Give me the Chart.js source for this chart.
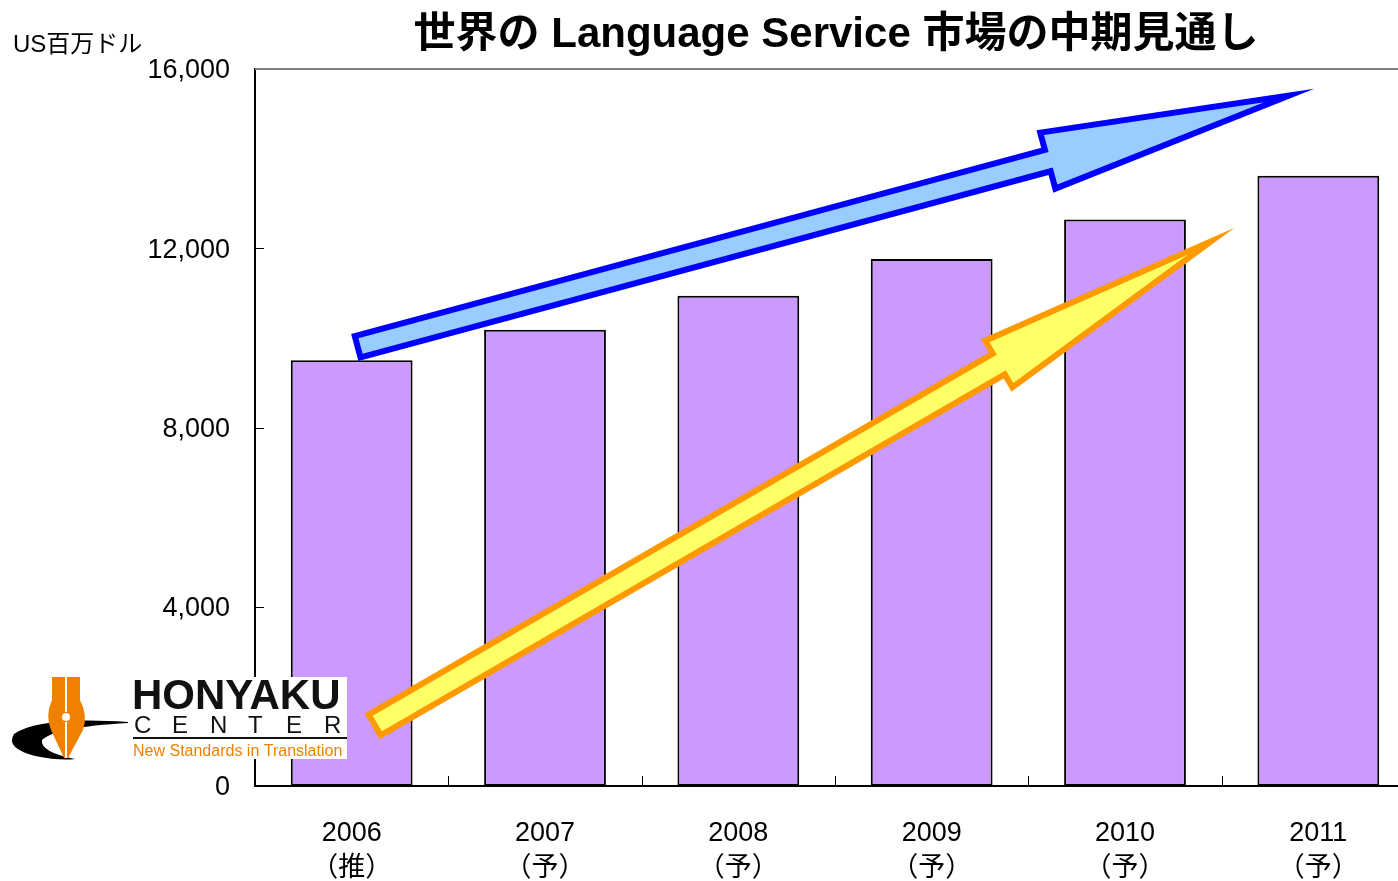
<!DOCTYPE html>
<html>
<head>
<meta charset="utf-8">
<script src="https://cdn.jsdelivr.net/npm/chart.js@4/dist/chart.umd.min.js"></script>
<style>
  html, body { margin: 0; padding: 0; background: #fff; overflow: hidden; }
  #wrap { width: 1416px; height: 881px; }
</style>
</head>
<body>
<div id="wrap"><canvas id="grafico" width="1416" height="881"></canvas></div>
<script>
// datos
const categories = ['2006', '2007', '2008', '2009', '2010', '2011'];
const categoryNotes = ['（推）', '（予）', '（予）', '（予）', '（予）', '（予）'];
const marketSize = [9500, 10180, 10940, 11760, 12640, 13620];
const yTicks = [0, 4000, 8000, 12000, 16000];
// arrows: tail / tip in data units (category index, value)
const blueArrow = [{ x: 0.031, y: 9800 }, { x: 4.979, y: 15560 }];
const orangeArrow = [{ x: 0.119, y: 1360 }, { x: 4.567, y: 12460 }];

const FONT = "'Liberation Sans', 'Noto Sans CJK JP', sans-serif";

function drawArrow(ctx, x0, y0, x1, y1, shaftHalf, headHalf, headLen, lw, stroke, fill) {
    const dx = x1 - x0, dy = y1 - y0;
    const len = Math.hypot(dx, dy);
    const ux = dx / len, uy = dy / len;
    const nx = -uy, ny = ux;
    // pull the tip back so the mitred outline ends at the visual tip
    const inset = (lw / 2) / Math.sin(Math.atan(headHalf / headLen));
    const tx = x1 - ux * inset, ty = y1 - uy * inset;
    const bx = tx - ux * headLen, by = ty - uy * headLen;
    const pts = [
        [x0 + nx * shaftHalf, y0 + ny * shaftHalf],
        [bx + nx * shaftHalf, by + ny * shaftHalf],
        [bx + nx * headHalf, by + ny * headHalf],
        [tx, ty],
        [bx - nx * headHalf, by - ny * headHalf],
        [bx - nx * shaftHalf, by - ny * shaftHalf],
        [x0 - nx * shaftHalf, y0 - ny * shaftHalf]
    ];
    ctx.save();
    ctx.beginPath();
    pts.forEach((p, i) => i ? ctx.lineTo(p[0], p[1]) : ctx.moveTo(p[0], p[1]));
    ctx.closePath();
    ctx.fillStyle = fill;
    ctx.fill();
    ctx.lineJoin = 'miter';
    ctx.miterLimit = 12;
    ctx.lineWidth = lw;
    ctx.strokeStyle = stroke;
    ctx.stroke();
    ctx.restore();
}

function drawLogo(ctx) {
    ctx.save();
    // white box behind the lettering
    ctx.fillStyle = '#fff';
    ctx.fillRect(133, 677, 214, 82);

    // swoosh
    ctx.fillStyle = '#000';
    ctx.beginPath();
    ctx.moveTo(128, 722);
    ctx.quadraticCurveTo(40, 716, 14, 734);
    ctx.quadraticCurveTo(5, 748, 35, 756);
    ctx.quadraticCurveTo(60, 761, 75, 759);
    ctx.quadraticCurveTo(40, 752, 42, 740);
    ctx.quadraticCurveTo(55, 727, 128, 723);
    ctx.closePath();
    ctx.fill();

    // pen nib
    ctx.fillStyle = '#f08000';
    ctx.beginPath();
    ctx.moveTo(52, 677);
    ctx.lineTo(80, 677);
    ctx.lineTo(80, 700);
    ctx.quadraticCurveTo(88, 715, 83, 730);
    ctx.lineTo(68, 758);
    ctx.lineTo(64, 758);
    ctx.lineTo(51, 730);
    ctx.quadraticCurveTo(45, 715, 52, 700);
    ctx.closePath();
    ctx.fill();
    ctx.strokeStyle = '#fff';
    ctx.lineWidth = 2;
    ctx.beginPath();
    ctx.moveTo(66, 677); ctx.lineTo(66, 712);
    ctx.moveTo(66, 722); ctx.lineTo(66, 758);
    ctx.stroke();
    ctx.fillStyle = '#fff';
    ctx.beginPath();
    ctx.arc(66, 717, 4, 0, Math.PI * 2);
    ctx.fill();

    // lettering
    ctx.fillStyle = '#111';
    ctx.textBaseline = 'alphabetic';
    ctx.textAlign = 'left';
    ctx.font = "bold 42px 'Liberation Sans', sans-serif";
    ctx.fillText('HONYAKU', 132, 709, 215);
    ctx.font = "24px 'Liberation Sans', sans-serif";
    'CENTER'.split('').forEach((c, i) => ctx.fillText(c, 134 + i * 38, 733));
    ctx.fillRect(133, 737, 214, 2);
    ctx.fillStyle = '#f08000';
    ctx.font = "16px 'Liberation Sans', sans-serif";
    ctx.fillText('New Standards in Translation', 133, 756, 214);
    ctx.restore();
}

const decoraciones = {
    id: 'decoraciones',
    afterDatasetsDraw(chart) {
        const { ctx, scales: { x, y } } = chart;
        drawLogo(ctx);
        const p = a => [x.getPixelForValue(a.x), y.getPixelForValue(a.y)];
        let [a0, a1] = [p(blueArrow[0]), p(blueArrow[1])];
        drawArrow(ctx, a0[0], a0[1], a1[0], a1[1], 11, 29, 250, 6, '#0000ff', '#99ccff');
        [a0, a1] = [p(orangeArrow[0]), p(orangeArrow[1])];
        drawArrow(ctx, a0[0], a0[1], a1[0], a1[1], 12, 27, 245, 6, '#ff9900', '#ffff66');
    },
    afterDraw(chart) {
        const { ctx, chartArea: ca, scales: { x, y } } = chart;
        ctx.save();
        // top frame line
        ctx.strokeStyle = '#808080';
        ctx.lineWidth = 2;
        ctx.beginPath();
        ctx.moveTo(ca.left, ca.top);
        ctx.lineTo(ca.right, ca.top);
        ctx.stroke();
        // inward tick marks
        ctx.strokeStyle = '#000';
        ctx.lineWidth = 1;
        ctx.beginPath();
        yTicks.slice(1, -1).forEach(v => {
            const py = Math.round(y.getPixelForValue(v)) + 0.5;
            ctx.moveTo(ca.left, py);
            ctx.lineTo(ca.left + 9, py);
        });
        for (let i = 1; i < categories.length; i++) {
            const px = Math.round(x.getPixelForValue(i - 0.5)) + 0.5;
            ctx.moveTo(px, ca.bottom);
            ctx.lineTo(px, ca.bottom - 10);
        }
        ctx.stroke();
        // y tick labels
        ctx.fillStyle = '#000';
        ctx.textBaseline = 'middle';
        ctx.textAlign = 'right';
        ctx.font = '27px ' + FONT;
        yTicks.forEach(v => {
            ctx.fillText(v.toLocaleString('en-US'), ca.left - 25, y.getPixelForValue(v) + 2);
        });
        // texts
        ctx.textAlign = 'center';
        ctx.font = 'bold 42px ' + FONT;
        ctx.fillText('世界の Language Service 市場の中期見通し', 836, 35);
        ctx.textAlign = 'left';
        ctx.font = '24px ' + FONT;
        ctx.fillText('US百万ドル', 13, 45);
        ctx.restore();
    }
};

const ctx = document.getElementById('grafico').getContext('2d');
new Chart(ctx, {
    type: 'bar',
    data: {
        labels: categories.map((c, i) => [c, categoryNotes[i]]),
        datasets: [{
            data: marketSize,
            backgroundColor: '#cc99ff',
            borderColor: '#000',
            borderWidth: 2,
            borderSkipped: false,
            categoryPercentage: 1,
            barPercentage: 0.63
        }]
    },
    options: {
        responsive: false,
        animation: false,
        devicePixelRatio: 1,
        layout: { padding: { top: 69, right: 1, left: 0, bottom: 0 } },
        plugins: {
            legend: { display: false },
            title: { display: false },
            tooltip: { enabled: false }
        },
        scales: {
            x: {
                grid: { display: false, drawTicks: false },
                border: { color: '#000', width: 2 },
                ticks: {
                    color: '#000',
                    padding: 30,
                    font: { family: FONT, size: 27, lineHeight: 1.3 }
                },
                afterFit: s => { s.height = 95; }
            },
            y: {
                min: 0,
                max: 16000,
                grid: { display: false, drawTicks: false },
                border: { color: '#000', width: 2 },
                afterBuildTicks: s => { s.ticks = yTicks.map(v => ({ value: v })); },
                ticks: { display: false },
                afterFit: s => { s.width = 255; }
            }
        }
    },
    plugins: [decoraciones]
});
</script>
</body>
</html>
